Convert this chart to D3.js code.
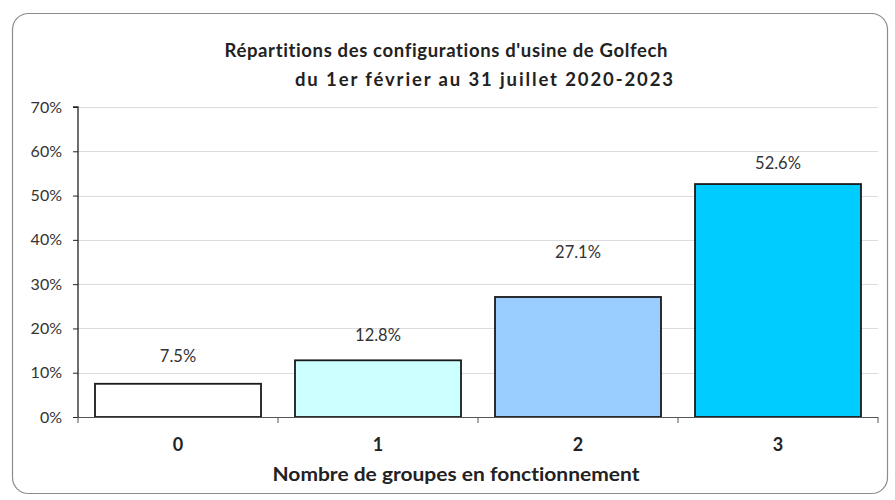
<!DOCTYPE html>
<html>
<head>
<meta charset="utf-8">
<script src="https://cdn.jsdelivr.net/npm/d3@7"></script>
<style>
  body { margin: 0; background: #fff; }
  svg { display: block; font-family: Lato, "Open Sans", sans-serif; font-variant-ligatures: none; }
</style>
</head>
<body>
<svg id="chart" width="895" height="500"></svg>
<script>
// Share of operating configurations per number of running groups
const categories = ["0", "1", "2", "3"];
const shares = [7.5, 12.8, 27.1, 52.6];
const barColors = ["#ffffff", "#ccffff", "#99ccff", "#00ccff"];
const yTicks = [0, 10, 20, 30, 40, 50, 60, 70];
const titleLines = ["Répartitions des configurations d'usine de Golfech", "du 1er février au 31 juillet 2020-2023"];
const xTitle = "Nombre de groupes en fonctionnement";

// layout
const plot = { left: 78, right: 878, top: 107, bottom: 417 };
const labelGap = [22, 19, 39, 15];          // distance from bar top to label baseline
const titleLayout = [{ x: 446, y: 57, len: 443 }, { x: 484, y: 86, len: 378 }];

const svg = d3.select("#chart");

// outer frame
svg.append("rect")
  .attr("x", 12.5).attr("y", 13.5)
  .attr("width", 875).attr("height", 480)
  .attr("rx", 16).attr("ry", 16)
  .attr("fill", "#fff").attr("stroke", "#8c8c8c").attr("stroke-width", 1.2);

const x = d3.scaleBand().domain(categories).range([plot.left, plot.right]).paddingInner(0.17).paddingOuter(0.085);
const xb = d3.scaleBand().domain(categories).range([plot.left, plot.right]);
const y = d3.scaleLinear().domain([0, 70]).range([plot.bottom, plot.top]);

// gridlines
svg.append("g").selectAll("line").data(yTicks.filter(d => d > 0)).join("line")
  .attr("x1", plot.left).attr("x2", plot.right)
  .attr("y1", d => Math.round(y(d)) + 0.5).attr("y2", d => Math.round(y(d)) + 0.5)
  .attr("stroke", "#dcdcdc").attr("stroke-width", 1);

// bars
svg.append("g").selectAll("rect").data(shares).join("rect")
  .attr("x", (d, i) => x(categories[i]))
  .attr("y", d => y(d))
  .attr("width", x.bandwidth())
  .attr("height", d => y(0) - y(d))
  .attr("fill", (d, i) => barColors[i])
  .attr("stroke", "#1a1a1a").attr("stroke-width", 1.8);

// value labels
svg.append("g").selectAll("text").data(shares).join("text")
  .attr("x", (d, i) => x(categories[i]) + x.bandwidth() / 2)
  .attr("y", (d, i) => y(d) - labelGap[i])
  .attr("text-anchor", "middle")
  .attr("font-size", 16.5).attr("fill", "#333")
  .text(d => d.toFixed(1) + "%");

// y axis
const yAxis = d3.axisLeft(y).tickValues(yTicks).tickSize(5).tickPadding(11).tickFormat(d => d + "%");
const gy = svg.append("g").attr("transform", `translate(${plot.left},0)`).call(yAxis);
gy.select(".domain").attr("stroke", "#222").attr("stroke-width", 1.3).attr("d", `M-5,${plot.top}H0V${plot.bottom}`);
gy.selectAll(".tick line").attr("stroke", "#222");
gy.selectAll(".tick text").attr("font-size", 16).attr("fill", "#333").attr("font-family", "Lato, sans-serif");

// x axis: ticks on band boundaries
svg.append("line")
  .attr("x1", plot.left).attr("x2", plot.right)
  .attr("y1", plot.bottom + 0.5).attr("y2", plot.bottom + 0.5)
  .attr("stroke", "#555").attr("stroke-width", 1.2);
const bounds = categories.map(c => xb(c)).concat([plot.right]);
svg.append("g").selectAll("line").data(bounds).join("line")
  .attr("x1", d => d).attr("x2", d => d)
  .attr("y1", plot.bottom).attr("y2", plot.bottom + 6)
  .attr("stroke", "#555").attr("stroke-width", 1);

svg.append("g").selectAll("text").data(categories).join("text")
  .attr("x", d => xb(d) + xb.bandwidth() / 2)
  .attr("y", 451)
  .attr("text-anchor", "middle")
  .attr("font-size", 18).attr("font-weight", "bold").attr("fill", "#222")
  .text(d => d);

// axis title
svg.append("text")
  .attr("x", 456).attr("y", 481)
  .attr("text-anchor", "middle")
  .attr("font-size", 18.5).attr("font-weight", "bold").attr("fill", "#222")
  .attr("textLength", 367).attr("lengthAdjust", "spacingAndGlyphs")
  .text(xTitle);

// chart title
svg.append("g").selectAll("text").data(titleLines).join("text")
  .attr("x", (d, i) => titleLayout[i].x)
  .attr("y", (d, i) => titleLayout[i].y)
  .attr("text-anchor", "middle")
  .attr("font-size", 18.5).attr("font-weight", "bold").attr("fill", "#222")
  .attr("textLength", (d, i) => titleLayout[i].len).attr("lengthAdjust", "spacing")
  .text(d => d);
</script>
</body>
</html>
